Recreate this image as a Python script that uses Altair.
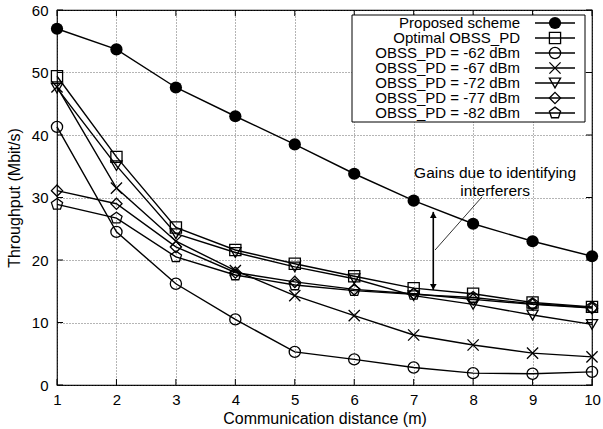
import altair as alt
import pandas as pd

FONT = "Liberation Sans"

distance = list(range(1, 11))
series_names = [
    "Proposed scheme",
    "Optimal OBSS_PD",
    "OBSS_PD = -62 dBm",
    "OBSS_PD = -67 dBm",
    "OBSS_PD = -72 dBm",
    "OBSS_PD = -77 dBm",
    "OBSS_PD = -82 dBm",
]
proposed = [57.0, 53.7, 47.6, 43.0, 38.5, 33.8, 29.5, 25.8, 23.0, 20.6]
optimal = [49.4, 36.5, 25.2, 21.6, 19.4, 17.4, 15.5, 14.6, 13.2, 12.5]
pd62 = [41.3, 24.5, 16.2, 10.5, 5.3, 4.1, 2.8, 1.9, 1.8, 2.1]
pd67 = [47.7, 31.5, 23.0, 18.3, 14.3, 11.1, 8.0, 6.4, 5.1, 4.5]
pd72 = [47.5, 35.1, 24.2, 21.2, 18.9, 17.0, 14.3, 12.9, 11.2, 9.7]
pd77 = [31.1, 29.0, 22.1, 18.0, 16.5, 15.3, 14.6, 13.7, 12.9, 12.3]
pd82 = [28.9, 26.7, 20.5, 17.6, 16.0, 15.1, 14.5, 14.0, 13.0, 12.4]
y_ticks = [0, 10, 20, 30, 40, 50, 60]

ann_text = ["Gains due to identifying", "interferers"]
ann_text_x = [8.37, 8.37]
ann_text_y = [34.0, 31.1]
arrow_x = 7.33
arrow_top = 27.7
arrow_bottom = 15.2
leader_from = (7.36, 21.6)
leader_to = (8.15, 30.1)

X_PATH = "M-1,-1L1,1M-1,1L1,-1"
PENT_PATH = "M0,-1.05L1,-0.32L0.62,0.85L-0.62,0.85L-1,-0.32Z"
shape_range = ["circle", "square", "circle", X_PATH, "triangle-down", "diamond", PENT_PATH]

W, H = 535, 375

all_vals = [proposed, optimal, pd62, pd67, pd72, pd77, pd82]
rows = []
for name, vals in zip(series_names, all_vals):
    for d, v in zip(distance, vals):
        rows.append({"series": name, "distance": d, "value": v})
df = pd.DataFrame(rows)

shape_scale = alt.Scale(domain=series_names, range=shape_range)

xenc = alt.X(
    "distance:Q",
    scale=alt.Scale(domain=[1, 10], nice=False, zero=False),
    axis=alt.Axis(
        values=distance, title="Communication distance (m)", grid=True, format="d",
        domain=False, ticks=False, labelPadding=7, titlePadding=3,
        labelFlush=False,
    ),
)
yenc = alt.Y(
    "value:Q",
    scale=alt.Scale(domain=[0, 60], nice=False),
    axis=alt.Axis(
        values=y_ticks, title="Throughput (Mbit/s)", grid=True, format="d",
        domain=False, ticks=False, labelPadding=9, titlePadding=9,
    ),
)

base = alt.Chart(df)
lines = base.mark_line(color="black", strokeWidth=1.4).encode(
    x=xenc, y=yenc, detail="series:N", order="distance:Q"
)
pts_open = base.transform_filter(alt.datum.series != "Proposed scheme").mark_point(
    filled=False, color="black", strokeWidth=1.3, size=125, opacity=1
).encode(
    x="distance:Q", y="value:Q",
    shape=alt.Shape("series:N", scale=shape_scale, legend=None),
)
pts_fill = base.transform_filter(alt.datum.series == "Proposed scheme").mark_point(
    filled=True, color="black", size=150, opacity=1, shape="circle"
).encode(x="distance:Q", y="value:Q")

# inward ticks
xt = alt.Chart(pd.DataFrame({"distance": distance}))
yt = alt.Chart(pd.DataFrame({"value": y_ticks}))
tick_style = dict(color="black", strokeWidth=1)
xt_bot = xt.mark_rule(**tick_style).encode(x="distance:Q", y=alt.value(H), y2=alt.value(H - 6))
xt_top = xt.mark_rule(**tick_style).encode(x="distance:Q", y=alt.value(0), y2=alt.value(6))
yt_left = yt.mark_rule(**tick_style).encode(y="value:Q", x=alt.value(0), x2=alt.value(6))
yt_right = yt.mark_rule(**tick_style).encode(y="value:Q", x=alt.value(W), x2=alt.value(W - 6))

# annotation
ann_df = pd.DataFrame({"text": ann_text, "distance": ann_text_x, "value": ann_text_y})
ann = alt.Chart(ann_df).mark_text(font=FONT, fontSize=15.5, color="black", align="center", baseline="middle").encode(
    x="distance:Q", y="value:Q", text="text:N"
)
arrow_df = pd.DataFrame({"distance": [arrow_x], "value": [arrow_top], "value2": [arrow_bottom]})
arrow_shaft = alt.Chart(arrow_df).mark_rule(color="black", strokeWidth=1.6).encode(
    x="distance:Q", y="value:Q", y2="value2:Q"
)
head_df = pd.DataFrame({
    "distance": [arrow_x, arrow_x],
    "value": [arrow_top - 0.5, arrow_bottom + 0.5],
    "kind": ["triangle-up", "triangle-down"],
})
arrow_heads = alt.Chart(head_df).mark_point(filled=True, color="black", size=45, opacity=1).encode(
    x="distance:Q", y="value:Q",
    shape=alt.Shape("kind:N", scale=alt.Scale(domain=["triangle-up", "triangle-down"], range=["triangle-up", "triangle-down"]), legend=None),
)
leader_df = pd.DataFrame({
    "distance": [leader_from[0]], "value": [leader_from[1]],
    "distance2": [leader_to[0]], "value2": [leader_to[1]],
})
leader = alt.Chart(leader_df).mark_rule(color="black", strokeWidth=0.8).encode(
    x="distance:Q", y="value:Q", x2="distance2:Q", y2="value2:Q"
)

main = alt.layer(
    lines, pts_open, pts_fill, xt_bot, xt_top, yt_left, yt_right,
    arrow_shaft, arrow_heads, leader, ann,
).resolve_scale(shape="independent")

# legend box
leg_df = pd.DataFrame({"label": series_names, "row": list(range(len(series_names)))})
leg_base = alt.Chart(leg_df).transform_calculate(ly="13 + 15 * datum.row")
ly = alt.Y("ly:Q", scale=None, axis=None)
box = alt.Chart(pd.DataFrame({"a": [0]})).mark_rect(fill="white", stroke="black", strokeWidth=1).encode(
    x=alt.value(295), x2=alt.value(528), y=alt.value(5), y2=alt.value(112)
)
leg_text = leg_base.mark_text(font=FONT, fontSize=15, color="black", align="right", baseline="middle").encode(
    x=alt.value(463), y=ly, text="label:N"
)
leg_line = leg_base.mark_rule(color="black", strokeWidth=1.4).encode(
    x=alt.value(478), x2=alt.value(518), y=ly
)
leg_open = leg_base.transform_filter(alt.datum.row > 0).mark_point(
    filled=False, color="black", strokeWidth=1.3, size=125, opacity=1
).encode(
    x=alt.value(498), y=ly,
    shape=alt.Shape("label:N", scale=shape_scale, legend=None),
)
leg_fill = leg_base.transform_filter(alt.datum.row == 0).mark_point(
    filled=True, color="black", size=150, opacity=1, shape="circle"
).encode(x=alt.value(498), y=ly)

legend = alt.layer(box, leg_text, leg_line, leg_open, leg_fill).resolve_scale(shape="independent")

chart = alt.layer(main, legend).resolve_scale(
    y="independent", shape="independent"
).properties(
    width=W, height=H,
    background="white",
    padding={"left": 57, "top": 10, "right": 11, "bottom": 44},
    autosize=alt.AutoSizeParams(type="none"),
).configure_view(
    stroke="black", strokeWidth=1.2
).configure_axis(
    labelFont=FONT, titleFont=FONT, labelFontSize=15, titleFontSize=16,
    labelColor="black", titleColor="black", titleFontWeight="normal",
    gridColor="#444", gridDash=[1, 2], gridWidth=0.8,
)

chart.save("out.html", embed_options={"renderer": "svg", "actions": False})
